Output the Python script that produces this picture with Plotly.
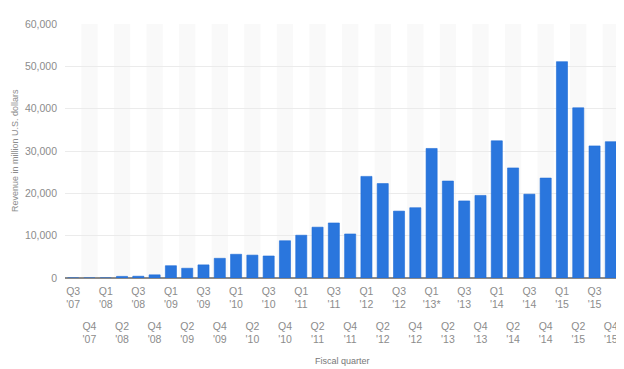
import plotly.graph_objects as go

quarters = ["Q3", "Q4", "Q1", "Q2", "Q3", "Q4", "Q1", "Q2", "Q3", "Q4",
            "Q1", "Q2", "Q3", "Q4", "Q1", "Q2", "Q3", "Q4", "Q1", "Q2",
            "Q3", "Q4", "Q1", "Q2", "Q3", "Q4", "Q1", "Q2", "Q3", "Q4",
            "Q1", "Q2", "Q3", "Q4"]
years = ["'07", "'07", "'08", "'08", "'08", "'08", "'09", "'09", "'09", "'09",
         "'10", "'10", "'10", "'10", "'11", "'11", "'11", "'11", "'12", "'12",
         "'12", "'12", "'13*", "'13", "'13", "'13", "'14", "'14", "'14", "'14",
         "'15", "'15", "'15", "'15"]
revenue = [0, 0, 0, 380, 420, 750, 2900, 2300, 3100, 4650,
           5600, 5400, 5200, 8800, 10100, 12000, 13000, 10400, 24000, 22300,
           15800, 16600, 30600, 22900, 18200, 19500, 32400, 26000, 19800, 23600,
           51100, 40200, 31200, 32200]
y_ticks = [0, 10000, 20000, 30000, 40000, 50000, 60000]

n = len(quarters)
pos = list(range(n))
labels = [f"{q}<br>{y}" for q, y in zip(quarters, years)]
even = [i for i in pos if i % 2 == 0]
odd = [i for i in pos if i % 2 == 1]

TICK_COLOR = "#8c8c8c"
FONT = "Liberation Sans, Arial, sans-serif"

fig = go.Figure()
fig.add_trace(go.Bar(
    x=pos, y=revenue, width=0.68,
    marker=dict(color="#2a76dd", line=dict(color="#1f6bd6", width=0.6)),
    hovertemplate="%{y:,}<extra></extra>", showlegend=False,
))
fig.add_trace(go.Scatter(
    x=odd, y=[None] * len(odd), xaxis="x2", mode="markers",
    showlegend=False, hoverinfo="skip",
))

shapes = []
for i in odd:
    shapes.append(dict(type="rect", xref="x", yref="y", x0=i - 0.5, x1=i + 0.5,
                       y0=0, y1=y_ticks[-1], fillcolor="#f9f9f9",
                       line=dict(width=0), layer="below"))

axis_common = dict(range=[-0.5, n - 0.5], showgrid=False, zeroline=False,
                   showline=False, ticks="",
                   tickfont=dict(size=10.5, color=TICK_COLOR, family=FONT))

# page body adds an 8px offset, so the figure is 8px smaller in each direction
fig.update_layout(
    width=616, height=361,
    margin=dict(l=57, r=5, t=16, b=91),
    paper_bgcolor="white", plot_bgcolor="white",
    font=dict(family=FONT, color=TICK_COLOR),
    bargap=0.3,
    shapes=shapes,
    xaxis=dict(**axis_common, tickvals=even, ticktext=[labels[i] for i in even],
               ticklabelstandoff=5),
    xaxis2=dict(**axis_common, overlaying="x", side="bottom", anchor="y",
                matches="x",
                tickvals=odd, ticktext=[labels[i] for i in odd],
                ticklabelstandoff=40),
    yaxis=dict(range=[0, y_ticks[-1]], tickvals=y_ticks,
               ticktext=[f"{v:,}" for v in y_ticks],
               showgrid=True, gridcolor="#ebebeb", gridwidth=1,
               zeroline=True, zerolinecolor="#8a8a8a", zerolinewidth=1.5,
               ticks="", ticklabelstandoff=7,
               tickfont=dict(size=10.5, color=TICK_COLOR, family=FONT)),
    annotations=[
        dict(text="Revenue in million U.S. dollars", xref="paper", yref="paper",
             x=0, y=0.5, xanchor="center", yanchor="middle", xshift=-50,
             textangle=-90, showarrow=False,
             font=dict(size=9, color="#8c8c8c", family=FONT)),
        dict(text="Fiscal quarter", xref="paper", yref="paper",
             x=0.5, y=0, xanchor="center", yanchor="top", yshift=-76,
             showarrow=False, font=dict(size=9, color="#777777", family=FONT)),
    ],
)

fig.write_html("out.html")
